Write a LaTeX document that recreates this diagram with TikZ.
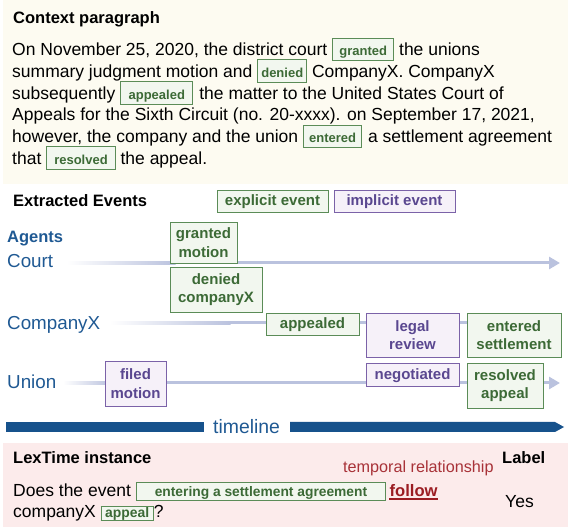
\documentclass[tikz,border=0pt]{standalone}
\usepackage{fontspec}
\setmainfont{Liberation Sans}
\usetikzlibrary{arrows.meta}
\definecolor{cream}{HTML}{FDFBF1}
\definecolor{pinkbg}{HTML}{FCEBEB}
\definecolor{gborder}{HTML}{5B8C57}
\definecolor{gfill}{HTML}{F2F7EF}
\definecolor{gtext}{HTML}{3C6A36}
\definecolor{pborder}{HTML}{7B62A8}
\definecolor{pfill}{HTML}{F6F1F9}
\definecolor{ptext}{HTML}{5A4790}
\definecolor{agentblue}{HTML}{1F5993}
\definecolor{barblue}{HTML}{17528C}
\definecolor{tline}{HTML}{BAC2DE}
\definecolor{followc}{HTML}{9B1C22}
\definecolor{tempc}{HTML}{A83238}
\newcommand\fsz[1]{\fontsize{#1}{#1}\selectfont}
% inline event box: pad, depth, height, fontsize, text
\newcommand\gbox[5]{{\setlength\fboxsep{0pt}\setlength\fboxrule{1pt}\fcolorbox{gborder}{gfill}{\rule[-#2]{0pt}{\dimexpr#2+#3\relax}\hspace{#1}\textcolor{gtext}{\fontsize{#4}{#4}\selectfont\bfseries #5}\hspace{#1}}}}
\begin{document}
\begin{tikzpicture}[x=1pt,y=-1pt,
  txt/.style={anchor=base west, inner sep=0pt},
  head/.style={txt, font=\fsz{16.5}\bfseries},
  para/.style={txt, font=\fsz{17.5}},
  agent/.style={txt, font=\fsz{18.8}, text=agentblue},
  evbase/.style={rectangle, inner sep=0pt, line width=0.9pt, font=\fontsize{15}{18.5}\selectfont\bfseries},
  evg/.style={evbase, draw=gborder, fill=gfill, text=gtext},
  evp/.style={evbase, draw=pborder, fill=pfill, text=ptext},
  two/.style={align=center},
  one/.style={text height=11pt, text depth=1.5pt},
  rowline/.style={tline, line width=3pt},
  rowarrow/.style={rowline, -{Triangle[length=11pt,width=12pt]}}
]
\useasboundingbox (0,0) rectangle (568,529);
% panels
\fill[cream] (3,0) rectangle (568,184);
\fill[pinkbg] (3,443) rectangle (568,527);

% context paragraph
\node[head] (ctx) at (13,23.5) {Context paragraph};
\node[para] (l1) at (12,55.8) {On November 25, 2020, the district court \gbox{6.2pt}{4.6pt}{17pt}{13}{granted} the unions};
\node[para] (l2) at (12,77.5) {summary judgment motion and \gbox{3pt}{4.6pt}{17pt}{13}{denied} CompanyX. CompanyX};
\node[para] (l3) at (12,99.2) {subsequently \gbox{7.4pt}{4.6pt}{17pt}{13}{appealed}\hspace{6pt}the matter to the United States Court of};
\node[para] (l4) at (12,121) {Appeals for the Sixth Circuit (no. 20-xxxx). on September 17, 2021,};
\node[para] (l5) at (12,142.8) {however, the company and the union \gbox{5pt}{4.6pt}{17pt}{13}{entered}\hspace{6pt}a settlement agreement};
\node[para] (l6) at (12,164.5) {that \gbox{7pt}{4.6pt}{17pt}{13}{resolved} the appeal.};

% extracted events
\node[head] (ext) at (13,207) {Extracted Events};
\node[evg, one, minimum width=111pt, minimum height=22pt] (lex) at (272.5,201) {explicit event};
\node[evp, one, minimum width=121pt, minimum height=22pt] (lim) at (394.5,201) {implicit event};

\node[txt, font=\fsz{16.5}\bfseries, text=agentblue] (agents) at (7,243) {Agents};
\node[agent] (court) at (7,267.7) {Court};
\node[agent] (comp) at (7,329.5) {CompanyX};
\node[agent] (union) at (7,389) {Union};

% row lines
\coordinate (c0) at (67,263);  \coordinate (c1) at (175,263);  \coordinate (c2) at (560,263);
\coordinate (x0) at (110,323); \coordinate (x1) at (230,323); \coordinate (x2) at (540,323);
\coordinate (u0) at (63,383);  \coordinate (u1) at (110,383); \coordinate (u2) at (560,383);
\shade[left color=white, right color=tline] (67,261.5) rectangle (175.5,264.5);
\draw[rowarrow] (c1) -- (c2);
\shade[left color=white, right color=tline] (110,321.5) rectangle (230.5,324.5);
\draw[rowline] (x1) -- (x2);
\shade[left color=white, right color=tline] (63,381.5) rectangle (110.5,384.5);
\draw[rowarrow] (u1) -- (u2);

% event boxes
\node[evg, two, minimum width=67pt, minimum height=41pt] (gm) at (203.5,242.5) {granted\\motion};
\node[evg, two, minimum width=92pt, minimum height=45pt] (dc) at (216,289.5) {denied\\companyX};
\node[evg, one, minimum width=93pt, minimum height=22pt] (ap) at (312.5,324) {appealed};
\node[evp, two, minimum width=93pt, minimum height=44pt] (lr) at (412.5,335) {legal\\review};
\node[evg, two, minimum width=94pt, minimum height=44pt] (es) at (514,335) {entered\\settlement};
\node[evp, two, minimum width=61pt, minimum height=45pt] (fm) at (135.5,383.5) {filed\\motion};
\node[evp, one, minimum width=93pt, minimum height=23pt] (ng) at (412.5,374.5) {negotiated};
\node[evg, two, minimum width=76pt, minimum height=45pt] (ra) at (505,385.5) {resolved\\appeal};

% timeline bar
\fill[barblue] (6,422) rectangle (204,432);
\node[txt, font=\fsz{19.4}, text=agentblue] (tl) at (213,433) {timeline};
\fill[barblue] (290,422) -- (555,422) -- (564,427) -- (555,432) -- (290,432) -- cycle;

% LexTime instance
\node[head] (lt) at (13,464) {LexTime instance};
\node[head] (lab) at (502,464) {Label};
\node[txt, font=\fsz{16.2}, text=tempc] (tr) at (343,472.8) {temporal relationship};
\node[para] (q1) at (13,496) {Does the event \gbox{18pt}{4.1pt}{13.1pt}{13.8}{entering a settlement agreement}};
\node[txt, font=\fsz{16.6}\bfseries, text=followc] (fol) at ([xshift=3pt]q1.base east) {follow};
\draw[followc, line width=1.8pt] ([yshift=-3pt]fol.base west) -- ([yshift=-3pt]fol.base east);
\node[para] (q2) at (13,517.5) {companyX \gbox{3.5pt}{2.6pt}{10.6pt}{13.9}{appeal}?};
\node[para] (yes) at (505,507) {Yes};
\end{tikzpicture}
\end{document}
